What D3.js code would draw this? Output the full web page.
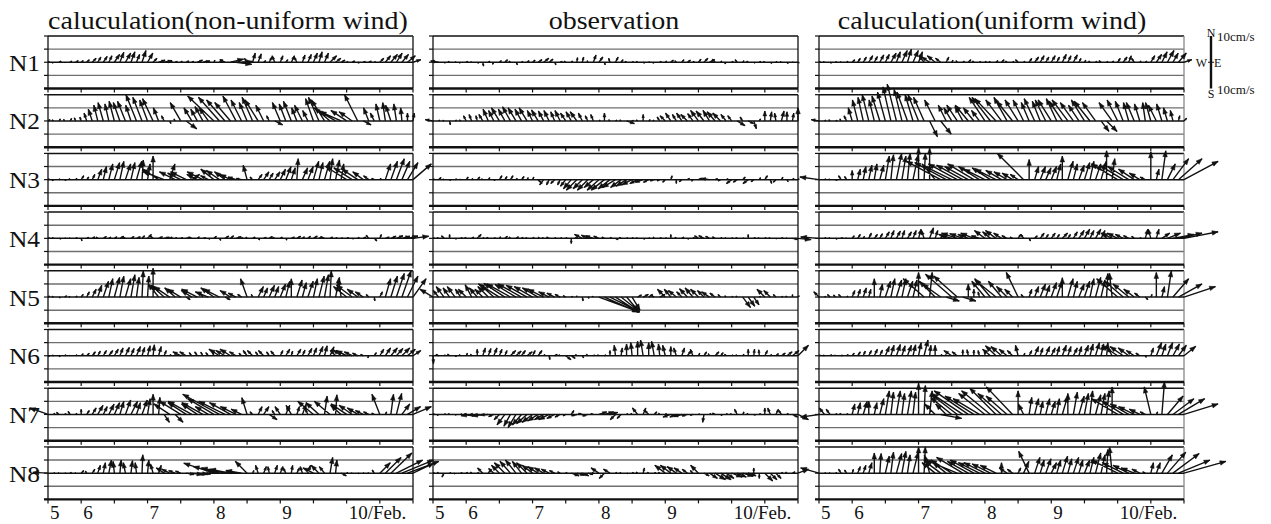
<!DOCTYPE html>
<html>
<head>
<meta charset="utf-8">
<script src="https://cdn.jsdelivr.net/npm/d3@7"></script>
<style>
  body { margin: 0; background: #fff; }
  svg text { font-family: "Liberation Serif", "Times New Roman", serif; fill: #111; }
</style>
</head>
<body>
<svg id="chart" width="1271" height="524"></svg>
<script>
// current vectors [east, north] in cm/s, one every 2 hours from 5 Feb 12:00 to 11 Feb 00:00
const nonUniformN1 = [
  [0.5,0.3],[-0.5,-0.3],[0.8,0.4],[0.3,-0.2],[0.6,0.5],[1,0.6],
  [0.8,0.6],[1,1],[1.5,1.5],[1.2,2],[1.5,2.2],[1.2,2.5],
  [2,3],[1.5,3.8],[2,3.5],[1.5,4],[1.2,3],[1.5,4.5],
  [2,3.5],[1.5,1.5],[2.5,0.8],[3,0.6],[1,0.4],[0.8,0.3],
  [0.6,0.4],[1,0.5],[0.8,0.3],[2,0.8],[2.5,0.5],[0.5,0.6],
  [0.4,0.8],[1.2,1],[-2,1],[5,1.2],[6,-0.8],[4,0.3],
  [-1,1.5],[1,3.5],[1.2,3.2],[0.8,0.6],[1,2],[-1,2.5],
  [1,2.5],[0.8,1],[1.2,2.5],[-1,2],[1,2.8],[1.3,3],
  [1.5,3.5],[1.2,4],[1.5,3.5],[2.5,2.5],[2,1.5],[1.5,0.8],
  [0.5,0.3],[1,0.5],[0.6,-0.3],[0.8,0.3],[1,0.4],[0.5,0.2],
  [1.5,1.5],[2,2.5],[2.5,3],[2.2,3.5],[2.5,3],[3,2.5],
  [3,1]
];
const nonUniformN2 = [
  [0.8,0.5],[-0.6,0.4],[0.5,0.8],[-0.4,0.6],[0.6,1],[-0.5,1.2],
  [-0.5,1.5],[-1,3],[-1.5,4.5],[-1.5,6],[-2,7],[-1.5,6.5],
  [-2,7.5],[-2.5,7],[-3,7.5],[-2,6],[-4,10],[-3.5,9],
  [-3,8],[-4,8.5],[-2,5],[-1,2],[0.5,-1],[-0.5,0.8],
  [-4,7],[4,-3],[-3,5],[-2.5,4.5],[-3,5.5],[-3.5,5],
  [-10,9.5],[-8,9],[-7,8],[-6,7],[-5,9.5],[-4,8],
  [-3,7],[-4,9],[-5,8],[-3,6],[-1,2],[3,-1.5],
  [-3,7],[-2.5,6.5],[-3,7.5],[-2,5],[-3,6],[-2,4],
  [-3,8.5],[-4,9],[-5,8],[-6,5],[-7,4],[-8,3.5],
  [-6,4],[-5,3.5],[-5,10],[3,-1.5],[-2,5],[-1.5,3],
  [-1.5,6.5],[-1,7],[-2,6],[-1,6.5],[-0.5,5],[0,3],
  [0.5,3]
];
const nonUniformN3 = [
  [0.5,0.3],[-0.5,-0.4],[0.4,0.3],[0.6,-0.3],[-0.4,0.4],[0.5,0.5],
  [1,1.5],[0.8,1],[1,2],[1.5,4],[1.2,5],[1.5,6],
  [2,6.5],[1.5,7],[2,6],[1.5,6.5],[2,7],[0.5,7.5],
  [1,6],[0,9],[-6,4],[-8,3],[2,6],[-6,3],
  [-5,2.5],[-6,3],[3,2],[-4,2],[-6,3],[-3,1.5],
  [-5,4],[-5,3.5],[-4,3],[-4,2],[-3,1],[-2,0.5],
  [-1.5,5.5],[-1,1],[1.5,2],[2,3],[1.5,2.5],[2,3],
  [2,4],[2,5],[1.5,4.5],[0.5,8],[2,4.5],[2,5],
  [2,7],[1.5,6.5],[2,7],[1,8],[1.5,7.5],[1,6],
  [-8,5],[-7,4.5],[-6,4],[-4,3],[-2,1.5],[-1,0.5],
  [0.5,0.5],[2,6],[2.5,7],[3,8],[3,7],[4,6.5],
  [7,6]
];
const nonUniformN4 = [
  [0.6,0.2],[-0.5,0.3],[0.8,-0.2],[0.5,0.1],[-0.4,0.2],[0.6,0.3],
  [0.3,-1],[0.8,0.4],[1,0.6],[-0.6,0.5],[1.2,0.7],[0.8,0.5],
  [1,0.6],[1.5,0.8],[-1,0.5],[1.2,0.7],[1.5,0.6],[1,1],
  [1.5,1.5],[-1,0.8],[1.5,0.6],[2,0.4],[1,0.5],[0.6,0.3],
  [0.8,0.3],[1.5,0.5],[-1,0.4],[0.8,0.6],[1.2,0.2],[0.6,-0.3],
  [1,0.8],[0.5,-0.8],[1.5,0.9],[1.2,1],[2,0.6],[0.5,0.3],
  [-0.5,0.5],[1,0.5],[0.6,-0.6],[1,0.4],[1.2,0.7],[-0.8,0.4],
  [0.8,0.5],[0.4,-0.7],[1.2,0.5],[1.5,0.8],[0.8,0.6],[1,0.8],
  [1.5,0.9],[1.2,0.7],[-1,0.4],[1,0.5],[0.6,0.3],[0.5,0.2],
  [0.8,0.3],[0.5,-0.2],[0.6,0.4],[1,0.5],[-1,1.2],[1,-1],
  [0.6,1.5],[1.5,0.5],[2,0.8],[2.5,1],[3,0.8],[4,0.9],
  [6,0.8]
];
const nonUniformN5 = [
  [0.6,0.4],[-0.6,0.3],[0.5,-0.3],[0.8,0.5],[-0.5,0.2],[0.6,0.4],
  [0.8,1],[1,2],[1.5,3],[1.5,4.5],[2,6],[1.5,7],
  [2,7.5],[1.5,8],[2,7],[1.5,8.5],[1,7.5],[0.5,10],
  [0.5,8],[0,11],[-4,5],[-5,4.5],[-6,4],[-4,3.5],
  [-5,3],[1.5,-1],[-4,2.5],[-6,3],[-1,1.5],[-5,2],
  [-5,3.5],[-6,3],[2,-1],[-4,2.5],[-3,1.5],[-1.5,1],
  [-2.5,7],[-0.5,1],[2,4],[1.5,3.5],[2,4.5],[1.5,4],
  [2,5],[1.5,6],[0,7],[2,6.5],[1.5,5.5],[2,6],
  [1.5,7],[2,8],[1.5,8.5],[0.5,10],[1.5,7.5],[-1,7],
  [-5,4],[-6,4.5],[-4,3],[-3,2],[-1,1],[0.2,-1.5],
  [1,2],[2,7],[2.5,8],[3,9],[3.5,10],[4,8],
  [5,7]
];
const nonUniformN6 = [
  [0.5,-0.3],[-0.5,0.2],[0.4,-0.4],[0.6,0.3],[-0.3,0.2],[0.5,0.4],
  [0.8,0.8],[1,1],[1.2,1.5],[1,1.8],[1.2,2],[1.5,2],
  [1.5,2.5],[1.2,3],[1.5,3.2],[1.2,2.8],[1.5,3.5],[1,3.2],
  [1,3.8],[0.5,4.2],[1,3.5],[0.8,2],[0.5,0.5],[-0.3,0.4],
  [-3,1.5],[-2.5,1.5],[-1,1.2],[-1,1.5],[-0.8,1.4],[-1,1.2],
  [-0.5,1.5],[-4,2.5],[-3.5,2],[-4,2.5],[-2.5,1.5],[-1,1],
  [-1.5,2],[-2,2],[-1,1.5],[-2,2],[-1,1.5],[-1.5,1.8],
  [1,2],[1.5,2.5],[0.5,1.8],[1.5,2.5],[1,2.2],[1.5,2.8],
  [1.2,3],[1.5,3.5],[1,3.8],[1.5,3.4],[-2,2],[-3,2.2],
  [-4,2],[-3,1.5],[-2,1],[-1,0.5],[-0.4,-0.8],[0.8,1.2],
  [1.5,2.5],[2,3],[2.5,3],[2.5,2.8],[3,3],[3,2.5],
  [3,2]
];
const nonUniformN7 = [
  [-7,2.5],[0.5,0.5],[-1,0.8],[0.6,0.3],[-0.8,1.2],[0.5,0.4],
  [0,2],[1,1.5],[1.5,2.5],[2,3.5],[1.5,3],[2,4],
  [2,4.5],[1.5,5],[2,5.5],[2.5,5],[1.5,4.5],[2,5.5],
  [1,6],[0,7.7],[0.5,6.5],[2,-3],[-6,4],[3,-3],
  [-8,5],[-7,4.5],[-9,5],[-6,4],[-8,4.5],[-5,3],
  [-10,6],[-14,7.7],[-10,5],[-8,4.5],[-6,3],[-4,2],
  [-2,6.4],[-1,1],[1.5,3],[2,3],[3,-2],[-1,1.5],
  [-2,3],[1.5,3.5],[-2,3.5],[1,3],[1.5,4],[-1,2],
  [-6,5],[-5,4.5],[1,7],[-6,5],[0.5,7.5],[-4,3.5],
  [-6,4],[-5,3.5],[-4,2.5],[-3,1.5],[-2,1],[-1,0.5],
  [-3,7.7],[0.5,1],[1,7.7],[2,8],[3,4],[5,3],
  [7,3]
];
const nonUniformN8 = [
  [-5.8,0.3],[0.5,0.1],[-0.4,0.2],[0.6,-0.1],[0.5,0.3],[-0.3,0.2],
  [1,1],[-0.5,0.8],[1,1.5],[1,3],[0.8,4],[1,5],
  [-0.5,4.5],[0.5,5],[-0.8,4],[0.6,4.8],[-0.5,4],[0.3,7],
  [0.5,5],[-1,3.5],[1,3],[-3,2],[-3,1.5],[-2.5,1],
  [-2,0.8],[3,-0.5],[4,-0.6],[4,-0.4],[3,-0.3],[1,0.2],
  [-11.5,3.8],[-10,2.5],[-9,2],[-8,1.5],[-10,1],[-6,1],
  [-4.5,4.5],[0.5,1],[-1,3],[1,2.5],[-0.5,2.5],[1,3],
  [1,2.5],[-1,2],[0.5,3],[1,2],[-0.8,2.5],[1,3],
  [-4,2],[-3,3],[-2,2.5],[1,6],[0.5,5],[2,-1],
  [0.5,0.2],[-0.4,0.1],[0.5,-0.2],[0.3,0.2],[-0.4,0.2],[-0.8,1.2],
  [4,4],[6,6],[8,7.7],[10,5],[12,5],[12,4.5],
  [8,3.8]
];

const observationN1 = [
  [0.5,0.2],[-3,0.5],[0.5,-0.3],[-0.6,0.3],[0.4,0.2],[-0.5,-0.3],
  [0.6,0.3],[-0.4,0.2],[0.5,-0.4],[0.3,-1.5],[0.6,0.4],[-0.5,-0.8],
  [0.8,0.6],[1,1],[-0.6,0.4],[0.6,-1],[0.5,0.3],[0.8,0.6],
  [1,0.8],[1.5,1],[2,1.5],[1.5,1.2],[0.5,-1],[0.8,0.3],
  [-0.6,0.4],[0.5,0.5],[0.3,1.8],[0.5,2],[-0.3,0.6],[1,2.8],
  [1.5,2],[0.3,-1],[-0.5,1.5],[1,2],[0.8,1],[-0.6,0.3],
  [0.5,0.2],[-0.5,0.3],[0.6,-0.3],[0.4,0.2],[-0.5,-0.4],[0.6,0.3],
  [0.5,0.5],[1,0.8],[-0.6,0.6],[0.8,1],[1.2,0.8],[0.5,0.4],
  [1,1.2],[1.5,1.5],[2,1],[-1,1.2],[0.5,0.5],[-0.5,-0.6],
  [0.6,0.3],[-0.8,1],[0.5,0.6],[-0.6,0.4],[0.5,-0.3],[0.6,0.3],
  [-0.5,0.3],[0.6,-0.4],[0.4,0.3],[-0.5,0.2],[0.5,-0.5],[0.3,0.2],
  [0.5,-0.2]
];
const observationN2 = [
  [-3,0.5],[0.5,0.3],[-0.5,0.2],[0.3,-1.5],[0.6,0.3],[-0.5,0.4],
  [-1,2],[-1,2.5],[-0.5,2],[-1.5,2.5],[-2,4.5],[-2,4],
  [-3,5],[-2.5,4.5],[-3,5.4],[-3,5],[-2.5,4.5],[-3,5],
  [-2,4],[-2.5,4.2],[-2,3.8],[-2,4],[-1.5,3.5],[-2,4],
  [-2,3],[-2,3.5],[-2.5,3.5],[-1.5,3],[-1,2],[-1,2.5],
  [0.5,0.3],[0,3],[-0.5,0.5],[0.6,0.3],[-0.5,0.4],[3,-1],
  [0.5,0.2],[-0.5,0.4],[0,2.5],[0.6,0.5],[-0.5,0.3],[-1,1.5],
  [-2,2],[-2,3],[-1.5,2.5],[-2,3],[-2.5,2.5],[-2,2.8],
  [-3,4],[-3,3.8],[-2.5,4],[-3,3.5],[-3,3],[-2,2.5],
  [-1.5,2],[3,-1.8],[-1,1.5],[2,-1],[1,-3],[0.5,0.8],
  [0,3.8],[0.5,3.5],[-0.5,3],[1,3.8],[0,3.5],[0.5,3],
  [0,5]
];
const observationN3 = [
  [0.5,0.3],[1,0.8],[-0.5,0.2],[0.4,-0.3],[0.6,0.3],[-0.4,0.2],
  [0.8,1],[0.5,0.4],[1,1],[-0.5,0.3],[0.6,0.8],[0.5,-0.3],
  [1,1.5],[0.8,1.2],[1,1.5],[0.5,0.5],[1,1.2],[0.5,0.8],
  [0.5,1],[1,-1],[-1.5,-2],[-1,-2],[-1.5,-1.5],[-1,-2],
  [-2,-2.5],[-3,-3.5],[-4,-4],[-3.5,-3.5],[-4,-4],[-3.5,-3],
  [-4.5,-4],[-5,-4],[-4.5,-3.5],[-5,-3],[-4,-3],[-4,-2.5],
  [-4,-2],[-3,-1.5],[-3,-1],[-2,-1],[-1.5,-0.5],[-1,-0.5],
  [-1,-1],[0.5,1.5],[0,-1.5],[-1,-0.8],[0.8,0.5],[-0.5,-0.6],
  [1,0.5],[-1,0.6],[-3,0.5],[1,0.4],[-1,-0.5],[0.8,0.3],
  [-2,-1.5],[-1.5,-1],[1,1],[-2,-1.5],[-1,-0.8],[0.5,0.8],
  [1,1.5],[0.5,-1.5],[-1,-1],[0.6,1],[0.5,-0.8],[0.6,0.5],
  [0.5,0.3]
];
const observationN4 = [
  [0.5,0.2],[-0.5,0.3],[-1,1],[0,1.5],[0.5,-0.3],[0.6,0.3],
  [-0.5,0.4],[0.8,0.5],[1.5,1.5],[0.5,0.3],[-0.6,0.4],[0.6,0.2],
  [0.5,0.6],[1,0.8],[-0.5,0.5],[1,0.6],[0.6,0.4],[-0.5,0.3],
  [0.6,0.4],[0.4,0.5],[-0.5,0.3],[-1,0.5],[0.5,0.3],[0.6,0.2],
  [0.5,0.3],[0,-2],[-0.5,0.4],[-3,1.5],[-2.5,1.2],[-3,1],
  [-2,0.8],[-1,0.5],[0.5,0.4],[1,-0.5],[-0.6,0.4],[0.5,0.2],
  [0.4,0.3],[-0.5,0.2],[0.6,-0.3],[0.5,0.2],[-0.4,0.5],[0.6,0.3],
  [0.5,0.2],[0,1.5],[-0.5,0.4],[0.8,0.5],[0.5,-0.3],[0.6,0.4],
  [-1.5,1],[-2,1],[-1.5,0.8],[-1,0.6],[0.5,0.3],[-0.5,0.2],
  [0.5,0.2],[-0.5,0.3],[0.4,0.2],[0,1.5],[0.6,0.3],[-0.5,0.2],
  [0.5,0.3],[-0.6,0.2],[0.4,-0.2],[0.5,0.3],[-0.4,0.2],[2,-0.4],
  [5,-0.5]
];
const observationN5 = [
  [-5,3],[-2,2.5],[-3,4],[-2.5,3.5],[-3,4],[-2,3],
  [-3,3],[-2.5,4.7],[-3,3.5],[-3,3],[-4,4],[-5,4.5],
  [-8,5],[-8,5.2],[-9,5],[-8,4.8],[-9,5],[-8,4.5],
  [-7,4],[-6,3.5],[-6,3],[-4,2],[-3,1.5],[-2,1],
  [-1,0.5],[0.5,0.3],[0,0.5],[0.3,-1.5],[0.5,-0.5],[-0.5,0.3],
  [15,-5.5],[13,-5.8],[11,-5.5],[9,-5.8],[7,-5.5],[5,-5.8],
  [3,-5],[1.5,0.8],[2,1],[1.5,1],[-1,0.5],[2,1],
  [-3,3],[-2.5,3],[-3,2.5],[-2,2],[-3,3.2],[-3,3.5],
  [-3,3],[-2.5,2.5],[-3,2],[-2,1.5],[-1,1],[-0.5,0.5],
  [0.5,0.3],[-0.5,0.4],[3,-4],[2.5,-3.5],[2,-3],[0.5,0.3],
  [-3,3],[-2.5,2.5],[-1,1],[0.5,0.3],[-0.5,0.4],[0,1],
  [0.5,0.5]
];
const observationN6 = [
  [0.2,-3],[-1,0.5],[0.5,0.3],[-0.8,0.6],[0.5,-0.3],[-0.6,0.4],
  [0.5,1],[-0.5,0.6],[0,2.5],[1,3],[1,2.8],[1.2,3],
  [1,2.5],[0.8,2],[2,2],[2,1.8],[1.5,2],[2,1.5],
  [1,2],[1.5,2],[0.5,0.5],[0.3,-1.5],[1,0.5],[-0.5,0.4],
  [2,-1.5],[1.5,-1],[-0.5,0.5],[0.5,-0.8],[-0.6,0.6],[0.5,0.3],
  [-0.5,0.4],[0.6,0.3],[0,2],[-0.5,4],[0.5,3],[0,4.5],
  [-0.5,5],[0,5.5],[-1,6],[0,5],[-1,5.5],[-0.5,4.5],
  [-1,4],[0,3.5],[-1,3],[1,3],[1.5,2],[-1,2.5],
  [0.5,1],[1,1.5],[-0.5,0.8],[1.5,1.5],[1,1.2],[-0.6,0.6],
  [0.5,0.3],[-0.5,0.4],[0.5,0.6],[0,2.5],[0.3,2.5],[-0.2,2.3],
  [1,2],[0.5,0.5],[1,0.8],[1.5,1],[2,1.5],[2.5,2],
  [4,4]
];
const observationN7 = [
  [0.5,0.3],[-0.5,-0.4],[0.6,0.2],[-0.5,0.3],[0.4,-0.3],[0.5,0.2],
  [-0.6,0.3],[-4,-0.5],[-3.5,-0.3],[-4,-0.6],[-3,-0.2],[-2,-0.8],
  [-2,-2],[-3,-4],[-2.5,-4.5],[-3,-5],[-3.5,-4],[-4,-3.5],
  [-4,-3],[-4,-2.5],[-3.5,-2],[-4,-2],[-3,-1.5],[-2,-1],
  [-1,-0.5],[1,1.5],[-2,-0.5],[-1.5,0.4],[-2,-0.6],[-1,0.3],
  [3,1],[3.5,1],[3,0.8],[-2,-2],[-1.5,-1.5],[0.5,0.3],
  [-0.5,0.4],[-2,2.5],[1,2.5],[-1.5,1.5],[1,1],[-0.5,0.5],
  [0.5,0.3],[-3,-1],[-2.5,-1],[-3,-0.8],[-2,-0.6],[-1,-0.3],
  [0.5,0.2],[-0.5,-3],[0.5,0.4],[-1,0.5],[0.6,-0.4],[0.5,0.3],
  [-0.5,0.3],[-1,2],[0.5,1],[-0.5,0.4],[0.6,-0.3],[0.5,0.3],
  [0,2.5],[-1,2.5],[1,2],[-1,1.5],[0.5,0.4],[2,-1],
  [4,-2]
];
const observationN8 = [
  [0.5,0.2],[-0.5,0.3],[-0.8,-1.5],[0.5,0.2],[-0.4,-0.3],[0.6,0.2],
  [0.5,0.3],[-0.5,0.4],[0.6,0.2],[-2,2],[1,1.5],[-2,1.8],
  [-3,3],[-4,4],[-4,4.5],[-4,5],[-3.5,4.5],[-4,4],
  [-4,3],[-4,2.5],[-3.5,2],[-3,1.5],[-2,1],[-1,0.5],
  [0.5,0.3],[3,-1],[3,-0.8],[2.5,-1],[2,-0.5],[-0.5,0.3],
  [-3,2],[-2,-2],[-2.5,1.5],[0.5,0.3],[-0.5,0.2],[0.5,-0.2],
  [0.5,0.3],[-0.6,0.4],[0.5,2],[-0.5,0.3],[0.6,0.2],[-0.5,0.3],
  [-4,3],[-4,3],[-3.5,2.5],[-3,2],[-2,1.5],[-1,1],
  [-3,3],[2,-1],[3,-2],[4,-2.5],[4,-2.5],[3,-2],
  [4,-1.5],[3.5,-1.5],[4,-1.2],[3,-1],[0,2],[0,-2],
  [3,-3],[2.5,-2.5],[2,-2],[0.5,0.3],[-0.5,0.4],[1,0.5],
  [4,1.5]
];

const uniformN1 = [
  [0.5,0.3],[-0.5,0.2],[0.6,-0.3],[0.4,0.3],[-0.4,0.2],[0.5,0.4],
  [1,1],[1,1.5],[1.2,2],[1.5,2.5],[1.2,2.2],[1.5,2.8],
  [1.5,3],[2,3.5],[1.5,4],[2,4.5],[1.5,5],[2,4.5],
  [1.5,4],[-2,2.5],[-3,2],[-3,2.5],[-2,1.5],[1,2],
  [0.5,0.8],[-0.5,0.6],[0.6,0.4],[1,1],[-0.5,0.5],[0.5,0.3],
  [0.5,0.4],[-0.5,0.3],[0.8,0.6],[1,1],[-0.6,0.4],[0.5,0.3],
  [-1,1],[0.5,0.4],[1,1.5],[1.5,2],[1.5,2.5],[1.2,2],
  [1.5,2.5],[1,2],[1.5,3],[1.2,2.5],[1.5,2.8],[0.8,1.5],
  [0.5,0.8],[-0.5,0.5],[0.5,0.4],[-0.8,0.6],[0.5,0.3],[0.6,0.5],
  [1,1.5],[1.5,2],[1,2.5],[-1,1.5],[0.5,0.5],[0.6,0.4],
  [1.5,2.5],[2,3],[2,4],[2.5,4.5],[2,3.5],[3,3.5],
  [3,1]
];
const uniformN2 = [
  [-3,0.5],[0.5,0.3],[-0.5,0.5],[0.6,0.2],[-0.5,0.8],[-1,2],
  [-1.5,5],[-2,8],[-2,9],[-2.5,10],[-2,8],[-3,9.5],
  [-3,11],[-3,13],[-3.5,14],[-3,12],[-4,11],[-3,10],
  [-4,10],[-4,9],[3,-6],[-4,8],[4,-5],[-3,6],
  [-3,5],[-4,6],[-3,5.5],[-5,6],[-4,5],[-3,4],
  [-6,9],[-7,9],[-8,8.5],[-6,8],[-5,9],[-6,7.5],
  [-5,8],[-4,8],[-3,7],[-4,8.5],[-3,7.5],[-4,8],
  [-5,8],[-4,8.5],[-5,7.5],[-6,8],[-5,7],[-4,6],
  [-5,8],[-6,7.5],[-5,7],[3,-4],[4,-4],[-5,7],
  [-4,8],[-3,7.5],[-2,7],[-3,7],[-2,6.5],[-1,7],
  [-2,7],[-3,6],[-2,6.5],[-1.5,5],[-1,4],[0.5,2],
  [1,1]
];
const uniformN3 = [
  [-7.3,1],[0.5,0.3],[-0.5,0.2],[0.6,-0.3],[-1,1.5],[-0.8,1.2],
  [0,3.5],[1,4],[1,5],[1.2,5.5],[1,6],[1.5,5.5],
  [1.5,9],[1,9.5],[2,10],[1.5,9],[1,10],[2,9.5],
  [0,12],[0.5,10],[0,12],[-5,6],[-13,7],[-12,6.5],
  [-10,5],[-11,6],[-10,5.5],[-9,5],[-10,6],[-8,5],
  [-8,4],[-7,4.5],[-8,4],[-6,3.5],[-5,3],[-4,2.5],
  [-3,2],[-10,10],[0,7.7],[1.5,5],[2,5],[2,4.5],
  [2,5],[1.5,6],[0,9],[2,7],[1.5,6],[2,5.5],
  [2,6.5],[1.5,7],[2,6],[2,7],[0,11],[1,8],
  [-10,6],[-9,5.5],[-8,5],[-6,4],[-4,2.5],[-2,1],
  [0,10.6],[1,4],[1.5,11],[3,6],[6,8],[9,8],
  [13,7]
];
const uniformN4 = [
  [-7,0.5],[0.5,0.3],[-0.5,0.2],[0.6,-0.3],[0.5,0.3],[-0.4,0.2],
  [0.8,1],[1,1.5],[0.5,0.8],[1,2],[1.2,1.5],[1,1.8],
  [1.5,2.5],[1.2,3],[1.5,2.8],[1,3],[1.5,2.5],[1.2,3],
  [1,3.5],[-1,3],[1.5,4],[1,3],[0.5,1],[-1,0.8],
  [-5,1.5],[-6,2],[-5,1.8],[-4,1.5],[-5,2],[-3,1],
  [-4,3],[-3,2.5],[-4,3],[-3,2],[-2,1],[-1,0.5],
  [1,1.5],[-1,1.5],[0.5,-1],[1,1],[1.5,2],[1,1.5],
  [1.5,2],[1,1.5],[2,2],[1,1.5],[1.5,2.5],[2,3],
  [2,3.5],[1.5,3],[2,3.5],[1.5,3],[-2,2],[-4,2],
  [-4,2],[-3,1.5],[-2,1],[-1,0.8],[0.5,0.3],[1,3.5],
  [-1,3.5],[1,3.5],[3,2],[5,2],[8,1.5],[9,2],
  [13,2.5]
];
const uniformN5 = [
  [-2,2],[0.5,0.3],[-1,1],[-0.8,0.8],[-1,1],[0.5,0.4],
  [1,2.5],[1,3],[1.2,3.5],[0.8,3],[0,7],[1,5],
  [2,6],[1.5,7],[2,6.5],[1.5,7],[2,6],[1.5,6.5],
  [0,9.4],[-8,7],[1,9.4],[-6,6],[-7,5],[5,-1.5],
  [-10,8.7],[-9,8],[5,-1.5],[0,5],[0,3],[-0.5,2],
  [-5,6],[-6,7],[-8,6.5],[-5,6],[-4,4],[-3,3],
  [-4.5,9.4],[-1,1],[1,3],[1.5,4],[2,5],[1.5,4.5],
  [2,5.5],[2,6],[0,7.4],[2,7],[1.5,6],[2,5],
  [2,6],[1.5,7],[2,7.5],[1.5,6.5],[0.5,9],[-1,9],
  [-8,7],[-7,6],[-6,5],[-4,3],[-2,1.5],[1,-1],
  [0.5,1],[0,9.4],[1,4],[1.5,10],[6,7],[9,5],
  [12,4]
];
const uniformN6 = [
  [0.5,0.3],[-0.5,0.2],[0.6,0.4],[-0.4,0.3],[0.5,0.2],[0.6,0.5],
  [0.8,1],[1,1.5],[0.8,1.8],[1,2],[1.2,2.5],[1,2.2],
  [1.5,3.5],[1.2,4],[1.5,4.3],[1.2,3.8],[1.5,4],[1,4.2],
  [1,5],[1.5,6],[0.5,4],[0,4],[0.5,0.5],[-0.4,0.4],
  [-3,2],[-2,1.5],[0,2.3],[-0.5,2.3],[0,2.2],[-0.5,2],
  [0,2],[-3,2.5],[-4,3.8],[-4,3.5],[-3,2.5],[-2,2],
  [-1,4],[0.5,1],[1,2],[1.5,3.5],[1,3],[1.5,3.5],
  [1.5,3],[1,3.5],[1.5,4],[1.2,3.5],[1.5,3],[1,3.5],
  [1.5,4],[1.2,4.5],[1.5,5],[1,4.5],[0.5,5],[-2,3.5],
  [-6,4],[-5,3.5],[-4,3],[-3,2],[-1.5,1],[0.4,-0.6],
  [1,3],[2,5],[1.5,4.5],[2,5],[2.5,4.5],[3,4],
  [4.5,3.6]
];
const uniformN7 = [
  [-7,-1],[-2,2.5],[-1.5,2],[0.5,0.3],[-0.5,0.4],[0.5,0.3],
  [1,4],[1,4.5],[1.5,5],[0,5],[1,4.5],[1.5,6],
  [1.5,9],[1,8.5],[1.5,9],[1,8],[1.5,9],[1,8.5],
  [0,11.8],[0.5,11],[1,9],[-4,4],[8,-1.5],[-4,4],
  [-8,6.4],[-10,7.7],[-12,8],[-13,9],[-11,7],[-10,6],
  [-10,8],[-11,9],[-10,10],[-9,8],[-8,7],[-10,10.5],
  [0,9],[-2,4],[1,6.5],[1.5,6],[1,5],[1.5,6],
  [1.5,5],[1,6],[2,7],[0,8],[1.5,8.5],[2,7],
  [1.5,8],[1,9],[2,7.5],[1.5,8],[1,9],[0,10.5],
  [-10,6],[-8,5],[-7,4],[-6,3],[-4,2],[-2,1],
  [-2.5,10.5],[0.5,1],[1,12.5],[6,7],[8,6],[10,6],
  [13,4]
];
const uniformN8 = [
  [-7,2],[0.5,0.1],[-0.4,0.2],[0.5,0.2],[-1,1.5],[-0.8,1.2],
  [0.5,1.5],[1,2.5],[1,3],[1.2,4],[0,7.7],[0.5,7.5],
  [1.5,6.5],[1,8],[2,7.5],[1.5,8.3],[1,7],[2,8],
  [0,10],[0.5,10],[-2,7],[-5,4],[-6,4.5],[-5,4],
  [-8,5],[-12,5],[-10,6],[-8,4.5],[-9,5],[-8,4],
  [-8,4],[-7,3.5],[-6,3],[0,4],[-3,2],[-2,1.5],
  [1,2],[2,4.5],[-4,8.3],[2,6],[1.5,5],[2,5.5],
  [2,4],[1.5,5],[2,6.5],[1.5,5.5],[2,6],[1.5,5],
  [2,5],[1.5,6],[2,7.7],[1.5,7],[0.5,9],[-1,10],
  [-10,5],[-8,4],[-6,3],[-5,2],[-3,1.5],[-1,0.5],
  [1,4],[1.5,4],[4,7],[7,8],[10,7.5],[12,5],
  [16,4.5]
];

const columnTitles = ['caluculation(non-uniform wind)', 'observation', 'caluculation(uniform wind)'];
const rowLabels = ['N1', 'N2', 'N3', 'N4', 'N5', 'N6', 'N7', 'N8'];
const tickDays = [5.5, 6, 7, 8, 9, 10];
const tickLabels = ['5', '6', '7', '8', '9', '10/Feb.'];
const halfDayTicks = [5.5, 6, 6.5, 7, 7.5, 8, 8.5, 9, 9.5, 10, 10.5, 11];
const speedLevels = [-10, -5, 0, 5, 10];

const columns = [
  [nonUniformN1, nonUniformN2, nonUniformN3, nonUniformN4, nonUniformN5, nonUniformN6, nonUniformN7, nonUniformN8],
  [observationN1, observationN2, observationN3, observationN4, observationN5, observationN6, observationN7, observationN8],
  [uniformN1, uniformN2, uniformN3, uniformN4, uniformN5, uniformN6, uniformN7, uniformN8]
];

const svg = d3.select('#chart');
const startDay = 5.5, endDay = 11;
const colLeft = [48, 433, 819];
const colTitleX = [228, 614, 992];
const panelW = 365, panelH = 52.5, firstTop = 36, rowStep = 58.7;

// cm/s -> px, same on both axes so the sticks keep their direction
const speed = d3.scaleLinear().domain([0, 10]).range([0, panelH / 2]);

// titles
svg.selectAll('.col-title')
  .data(columnTitles)
  .enter()
  .append('text')
  .attr('class', 'col-title')
  .attr('transform', (d, i) => `translate(${colTitleX[i]},28.5) scale(1.12,1)`)
  .attr('text-anchor', 'middle')
  .attr('font-size', 25)
  .text(d => d);

// row labels
svg.selectAll('.row-label')
  .data(rowLabels)
  .enter()
  .append('text')
  .attr('class', 'row-label')
  .attr('transform', (d, i) => `translate(9,${firstTop + i * rowStep + panelH / 2 + 8.5}) scale(1.06,1)`)
  .attr('font-size', 24)
  .text(d => d);

columns.forEach((panels, c) => {
  const x = d3.scaleLinear().domain([startDay, endDay]).range([colLeft[c], colLeft[c] + panelW]);

  panels.forEach((data, r) => {
    const top = firstTop + r * rowStep;
    const y = d3.scaleLinear().domain([-10, 10]).range([top + panelH, top]);
    const g = svg.append('g');

    // grid lines at +-5 cm/s
    g.selectAll('.grid')
      .data([-5, 5])
      .enter()
      .append('line')
      .attr('x1', x(startDay)).attr('x2', x(endDay))
      .attr('y1', d => y(d)).attr('y2', d => y(d))
      .attr('stroke', '#6f6f6f')
      .attr('stroke-width', 1.4);

    // frame
    g.append('line')
      .attr('x1', x(startDay)).attr('x2', x(endDay))
      .attr('y1', y(10)).attr('y2', y(10))
      .attr('stroke', '#111').attr('stroke-width', 1.5);
    g.append('line')
      .attr('x1', x(startDay)).attr('x2', x(startDay))
      .attr('y1', y(10)).attr('y2', y(-10))
      .attr('stroke', '#111').attr('stroke-width', 1.3);
    g.append('line')
      .attr('x1', x(endDay)).attr('x2', x(endDay))
      .attr('y1', y(10)).attr('y2', y(-10))
      .attr('stroke', c === 2 ? '#888' : '#111').attr('stroke-width', 1.3);

    // left ticks
    g.selectAll('.ytick')
      .data(speedLevels)
      .enter()
      .append('line')
      .attr('x1', x(startDay) - 4).attr('x2', x(startDay))
      .attr('y1', d => y(d)).attr('y2', d => y(d))
      .attr('stroke', '#111').attr('stroke-width', 1.2);

    // bottom axis with half-day ticks
    g.append('line')
      .attr('x1', x(startDay) - 4).attr('x2', x(endDay))
      .attr('y1', y(-10)).attr('y2', y(-10))
      .attr('stroke', '#111').attr('stroke-width', 2.4);
    g.selectAll('.xtick')
      .data(halfDayTicks)
      .enter()
      .append('line')
      .attr('x1', d => x(d)).attr('x2', d => x(d))
      .attr('y1', y(-10)).attr('y2', y(-10) + 4)
      .attr('stroke', '#111').attr('stroke-width', 1.2);

    // baseline
    g.append('line')
      .attr('x1', x(startDay)).attr('x2', x(endDay))
      .attr('y1', y(0)).attr('y2', y(0))
      .attr('stroke', '#111').attr('stroke-width', 1.5);

    // sticks
    const n = data.length;
    let lines = '', heads = '';
    data.forEach((d, i) => {
      const x0 = x(startDay + i * (endDay - startDay) / (n - 1));
      const y0 = y(0);
      const dx = speed(d[0]), dy = -speed(d[1]);
      const len = Math.hypot(dx, dy);
      const x1 = x0 + dx, y1 = y0 + dy;
      lines += `M${x0.toFixed(2)},${y0.toFixed(2)}L${x1.toFixed(2)},${y1.toFixed(2)}`;
      if (len > 1.2) {
        const h = Math.min(6, len * 0.5), w = h * 0.38;
        const ux = dx / len, uy = dy / len;
        const bx = x1 - ux * h, by = y1 - uy * h;
        heads += `M${x1.toFixed(2)},${y1.toFixed(2)}L${(bx - uy * w).toFixed(2)},${(by + ux * w).toFixed(2)}` +
          `L${(bx + uy * w).toFixed(2)},${(by - ux * w).toFixed(2)}Z`;
      }
    });
    g.append('path').attr('d', lines).attr('fill', 'none').attr('stroke', '#111').attr('stroke-width', 1.4);
    g.append('path').attr('d', heads).attr('fill', '#111').attr('stroke', '#111').attr('stroke-width', 0.5);

    // day labels under the last row
    if (r === panels.length - 1) {
      g.selectAll('.xlabel')
        .data(tickDays)
        .enter()
        .append('text')
        .attr('x', d => x(d) + 2)
        .attr('y', 519)
        .attr('font-size', 19)
        .text((d, i) => tickLabels[i]);
    }
  });
});

// scale legend
const legendX = 1211, legendY = firstTop + panelH / 2;
svg.append('line')
  .attr('x1', legendX).attr('x2', legendX)
  .attr('y1', legendY - speed(10)).attr('y2', legendY + speed(10))
  .attr('stroke', '#111').attr('stroke-width', 2.4);
svg.append('line')
  .attr('x1', legendX - 3).attr('x2', legendX + 3)
  .attr('y1', legendY).attr('y2', legendY)
  .attr('stroke', '#111').attr('stroke-width', 1);
const legendText = [
  { t: 'N', x: legendX, y: legendY - speed(10) + 1, a: 'middle', s: 12 },
  { t: 'S', x: legendX, y: legendY + speed(10) + 9, a: 'middle', s: 12 },
  { t: 'W', x: legendX - 4, y: legendY + 5, a: 'end', s: 12 },
  { t: 'E', x: legendX + 3, y: legendY + 5, a: 'start', s: 12 },
  { t: '10cm/s', x: legendX + 6, y: legendY - speed(10) + 5, a: 'start', s: 13 },
  { t: '10cm/s', x: legendX + 6, y: legendY + speed(10) + 5, a: 'start', s: 13 }
];
svg.selectAll('.legend-text')
  .data(legendText)
  .enter()
  .append('text')
  .attr('x', d => d.x)
  .attr('y', d => d.y)
  .attr('text-anchor', d => d.a)
  .attr('font-size', d => d.s)
  .text(d => d.t);
</script>
</body>
</html>
